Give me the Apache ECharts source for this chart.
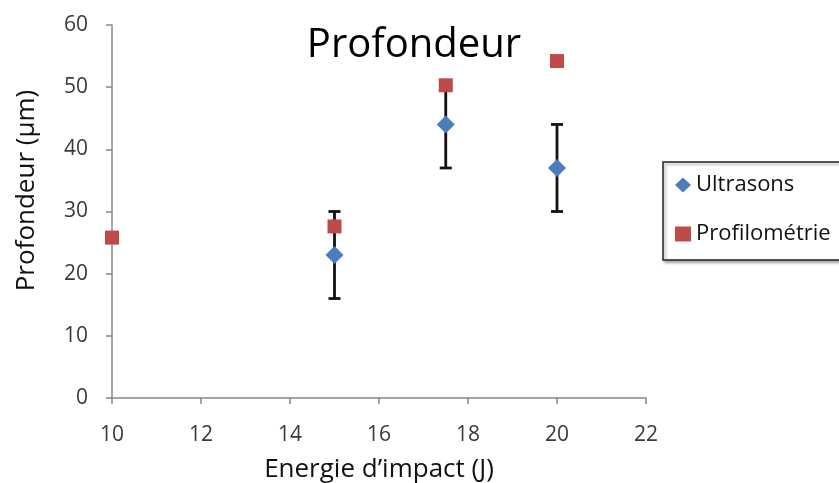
<!DOCTYPE html>
<html><head><meta charset="utf-8">
<script src="https://cdn.jsdelivr.net/npm/echarts@6/dist/echarts.min.js"></script>
<style>html,body{margin:0;padding:0;background:#fff}#c{width:839px;height:483px}</style>
</head><body><div id="c"></div>
<script>
const energie = [15, 17.5, 20];
const ultrasons = [23, 44, 37];
const errLow = [16, 37, 30];
const errHigh = [30, 51, 44];
const energieProf = [10, 15, 17.5, 20];
const profilometrie = [25.8, 27.6, 50.3, 54.2];
const xTicks = [10, 12, 14, 16, 18, 20, 22];
const yTicks = [0, 10, 20, 30, 40, 50, 60];

const FONT = '"Open Sans", "Liberation Sans", sans-serif';
const chart = echarts.init(document.getElementById('c'));
chart.setOption({
  animation: false,
  title: { text: 'Profondeur', left: 409, top: 21, textAlign: 'center',
    textStyle: { fontFamily: FONT, fontSize: 40, fontWeight: 'normal', color: '#000' } },
  legend: {
    orient: 'vertical', left: 663, top: 162, width: 220,
    padding: [11, 40, 14, 12], itemGap: 25, itemWidth: 16, itemHeight: 15,
    borderColor: '#222', borderWidth: 1.5, borderRadius: 0,
    shadowColor: 'rgba(0,0,0,0.35)', shadowBlur: 3, shadowOffsetX: 2, shadowOffsetY: 2,
    backgroundColor: '#fff',
    textStyle: { fontFamily: FONT, fontSize: 22, lineHeight: 24, color: '#111' },
    data: [{ name: 'Ultrasons', icon: 'diamond' }, { name: 'Profilométrie', icon: 'rect' }]
  },
  grid: { left: 112, right: 193, top: 25, bottom: 85, outerBoundsMode: 'none', containLabel: false },
  xAxis: {
    type: 'value', min: xTicks[0], max: xTicks[xTicks.length - 1], interval: 2,
    name: 'Energie d\u2019impact (J)', nameLocation: 'middle', nameGap: 59,
    nameTextStyle: { fontFamily: FONT, fontSize: 26, color: '#111' },
    axisLine: { lineStyle: { color: '#888', width: 1.5 } },
    axisTick: { show: true, length: 6, lineStyle: { color: '#888', width: 1.5 } },
    axisLabel: { fontFamily: FONT, fontSize: 21, color: '#3a3a3a', margin: 27 },
    splitLine: { show: false }
  },
  yAxis: {
    type: 'value', min: yTicks[0], max: yTicks[yTicks.length - 1], interval: 10,
    name: 'Profondeur (\u00b5m)', nameLocation: 'middle', nameGap: 72, nameRotate: 90,
    nameTextStyle: { fontFamily: FONT, fontSize: 26, color: '#111', padding: [0, 0, 0, 42] },
    axisLine: { show: true, lineStyle: { color: '#888', width: 1.5 } },
    axisTick: { show: true, length: 6, lineStyle: { color: '#888', width: 1.5 } },
    axisLabel: { fontFamily: FONT, fontSize: 21, color: '#3a3a3a', margin: 24 },
    splitLine: { show: false }
  },
  series: [
    {
      type: 'custom', name: 'err', z: 1, silent: true,
      data: energie.map((x, i) => [x, errLow[i], errHigh[i]]),
      renderItem: function (params, api) {
        const lo = api.coord([api.value(0), api.value(1)]);
        const hi = api.coord([api.value(0), api.value(2)]);
        const w = 6;
        const st = { stroke: '#111', lineWidth: 2.8 };
        return { type: 'group', children: [
          { type: 'line', shape: { x1: lo[0], y1: lo[1], x2: hi[0], y2: hi[1] }, style: st },
          { type: 'line', shape: { x1: lo[0] - w, y1: lo[1], x2: lo[0] + w, y2: lo[1] }, style: st },
          { type: 'line', shape: { x1: hi[0] - w, y1: hi[1], x2: hi[0] + w, y2: hi[1] }, style: st }
        ] };
      }
    },
    {
      type: 'scatter', name: 'Ultrasons', symbol: 'diamond', symbolSize: 18, z: 3,
      itemStyle: { color: '#4a7ebb', opacity: 1 },
      data: energie.map((x, i) => [x, ultrasons[i]])
    },
    {
      type: 'scatter', name: 'Profilométrie', symbol: 'rect', symbolSize: 14, z: 3,
      itemStyle: { color: '#be4b48', opacity: 1 },
      data: energieProf.map((x, i) => [x, profilometrie[i]])
    }
  ]
});
</script></body></html>
